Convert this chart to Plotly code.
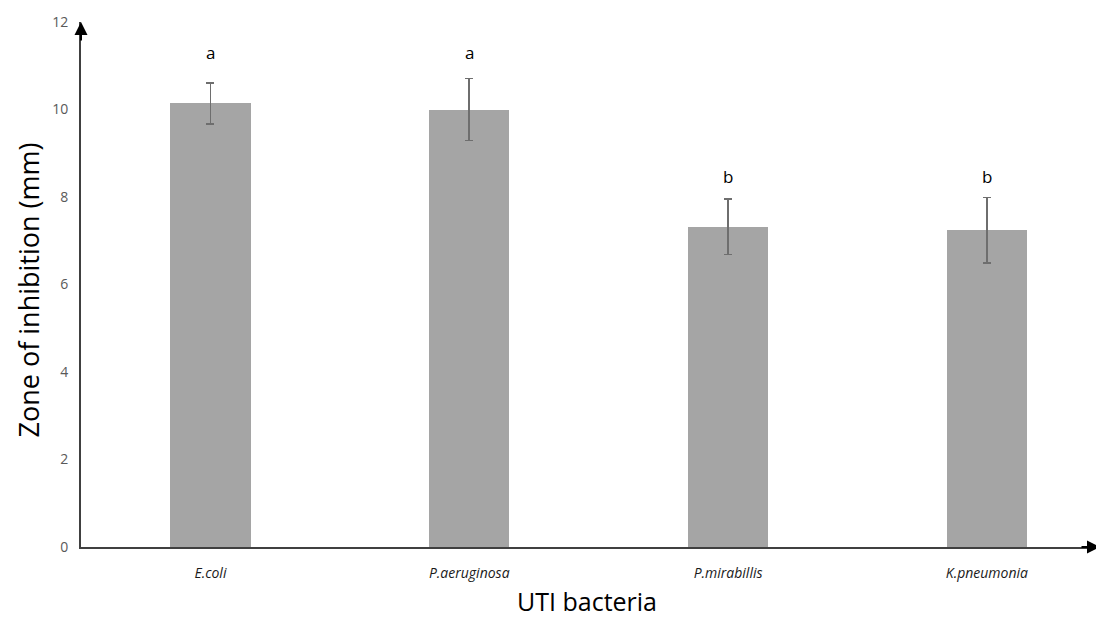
import plotly.graph_objects as go

categories = ["E.coli", "P.aeruginosa", "P.mirabillis", "K.pneumonia"]
means = [10.14, 10.0, 7.32, 7.24]
errors = [0.47, 0.71, 0.63, 0.75]
letters = ["a", "a", "b", "b"]
letter_y = [11.3, 11.3, 8.48, 8.48]
y_ticks = [0, 2, 4, 6, 8, 10, 12]

fig = go.Figure()
fig.add_trace(go.Bar(
    x=list(range(len(categories))), y=means,
    width=0.31,
    marker=dict(color="#A5A5A5", line=dict(width=0)),
    error_y=dict(type="data", array=errors, visible=True,
                 color="#6E6E6E", thickness=1.5, width=4),
    showlegend=False,
))

for i, (l, ly) in enumerate(zip(letters, letter_y)):
    fig.add_annotation(x=i, y=ly, text=l, showarrow=False,
                       font=dict(family="Open Sans", size=17, color="#000000"))

# axis arrowheads
fig.add_annotation(xref="paper", yref="paper", x=0, y=1, ax=0, ay=20,
                   text="", showarrow=True, arrowhead=2, arrowsize=1.3,
                   arrowwidth=2, arrowcolor="#000000")
fig.add_annotation(xref="paper", yref="paper", x=1, y=0, ax=-20, ay=0,
                   text="", showarrow=True, arrowhead=2, arrowsize=1.3,
                   arrowwidth=2, arrowcolor="#000000")

# axis titles
fig.add_annotation(xref="paper", yref="paper", x=0.5, y=0, xshift=-4, yshift=-54,
                   xanchor="center", yanchor="middle",
                   text="UTI bacteria", showarrow=False,
                   font=dict(family="Open Sans", size=25, color="#000000"))
fig.add_annotation(xref="paper", yref="paper", x=0, xshift=-53, y=0.5, yshift=-6,
                   xanchor="center", yanchor="middle",
                   text="Zone of inhibition (mm)", textangle=-90, showarrow=False,
                   font=dict(family="Open Sans", size=27, color="#000000"))

# page body has an 8px margin; size the figure to compensate
fig.update_layout(
    width=1096, height=612,
    margin=dict(l=73, r=4, t=14, b=73),
    plot_bgcolor="white", paper_bgcolor="white",
    bargap=0,
    xaxis=dict(
        range=[-0.5, 3.437], automargin=False,
        tickmode="array", tickvals=list(range(len(categories))),
        ticktext=[f"<i>{c}</i>" for c in categories],
        tickfont=dict(family="Open Sans", size=14, color="#1a1a1a"),
        showline=True, linecolor="#404040", linewidth=2,
        showgrid=False, zeroline=False, ticks="",
        ticklabelstandoff=12,
    ),
    yaxis=dict(
        range=[0, 12], tickvals=y_ticks, automargin=False,
        tickfont=dict(family="Open Sans", size=14, color="#595959"),
        showline=True, linecolor="#404040", linewidth=2,
        showgrid=False, zeroline=False, ticks="",
        ticklabelstandoff=8,
    ),
)

fig.write_html("out.html")
